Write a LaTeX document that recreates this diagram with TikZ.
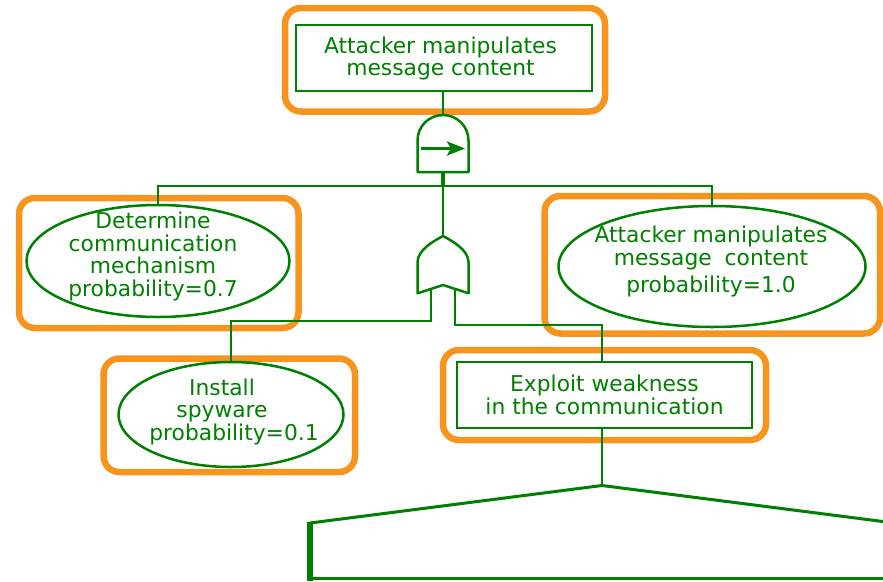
\documentclass[tikz,border=0pt]{standalone}
\usepackage{fontspec}
\setmainfont{DejaVu Sans}
\usetikzlibrary{shapes.geometric,arrows.meta}
\definecolor{gr}{RGB}{0,128,0}
\definecolor{orng}{RGB}{247,148,30}
\begin{document}
\begin{tikzpicture}[x=1pt,y=-1pt,
  hl/.style={draw=orng,line width=6.5,rounded corners=16,inner sep=0,rectangle},
  gbox/.style={draw=gr,line width=2,rectangle,inner sep=0},
  gell/.style={draw=gr,line width=2.5,ellipse,inner sep=0},
  lbl/.style={text=gr,align=center,font=\fontsize{21.8}{22.5}\selectfont,inner sep=0},
  wire/.style={draw=gr,line width=1.5},
  gate/.style={draw=gr,line width=2.5,line join=round}]
\useasboundingbox (0,0) rectangle (883,581);
\clip (0,0) rectangle (883,581);
% orange highlight frames
\node[hl,minimum width=320,minimum height=103.5] (hTop) at (445,59.75) {};
\node[hl,minimum width=279.5,minimum height=130] (hDet) at (158.75,263) {};
\node[hl,minimum width=335.5,minimum height=137.5] (hAtt) at (712.25,264.75) {};
\node[hl,minimum width=251.5,minimum height=113.5] (hIns) at (229.25,415.25) {};
\node[hl,minimum width=323,minimum height=90] (hExp) at (604.5,395) {};
% events
\node[gbox,minimum width=295.5,minimum height=65.5] (top) at (444,58) {};
\node[lbl] (topT) at (440.5,58.5) {Attacker manipulates\\message content};
\node[gell,minimum width=263,minimum height=112] (detE) at (158,261) {};
\node[lbl] (detT) at (153,256.5) {Determine\\communication\\mechanism\\probability=0.7};
\node[gell,minimum width=307,minimum height=121] (attE) at (712,266.5) {};
\node[lbl] (attT) at (711,261.5) {Attacker manipulates\\message\hspace{6pt} content\\[5pt]probability=1.0};
\node[gell,minimum width=225,minimum height=105] (insE) at (231,414.5) {};
\node[lbl] (insT) at (234,411.5) {Install\kern24pt\\spyware\kern24pt\\probability=0.1};
\node[gbox,lbl,minimum width=295,minimum height=66] (expB) at (604.5,395) {Exploit weakness\\in the communication};
% coordinates
\coordinate (andTop) at (443,115);
\coordinate (andBot) at (443,172);
\coordinate (split) at (443,186);
\coordinate (orTop) at (443,236);
\coordinate (orL) at (431,289);
\coordinate (orR) at (455,289);
\coordinate (jL) at (330,321);
\coordinate (jR) at (530,325);
\coordinate (apex) at (602,485.5);
% AND gate (priority)
\draw[gate] (417.5,172) -- (417.5,140.5) .. controls (417.5,126.5) and (428.8,115) .. (andTop)
  .. controls (457.2,115) and (468.5,126.5) .. (468.5,140.5) -- (468.5,172) -- cycle;
\draw[gr,line width=3.2,-{Stealth[length=18pt,width=14pt,inset=4pt]}] (421,148.5) -- (465,148.5);
% OR gate
\draw[gate] (orTop) .. controls (432,242) and (418,250) .. (417.5,262) -- (417.5,293.3) -- (443,285)
  -- (468.5,293.3) -- (468.5,262) .. controls (468,250) and (454,242) .. (orTop) -- cycle;
% connectors
\draw[wire] (top.south -| andTop) -- (andTop);
\draw[gr,line width=4] (andBot) -- (split);
\draw[wire] (detE.north) |- (split) -| (attE.north);
\draw[gr,line width=2.5] (split) -- (orTop);
\draw[wire] (orL) |- (jL) -| (insE.north);
\draw[wire] (orR) |- (jR) -| (apex |- expB.north);
\draw[gr,line width=2] (expB.south -| apex) -- (apex);
% transfer / lower shape
\draw[gr,line width=3,line join=miter] (310,523) -- (apex) -- (900,523.7);
\draw[gr,line width=2.5] (308,578.5) -- (900,578.5);
\fill[gr] (307,521.5) rectangle (313,581);
\end{tikzpicture}
\end{document}
